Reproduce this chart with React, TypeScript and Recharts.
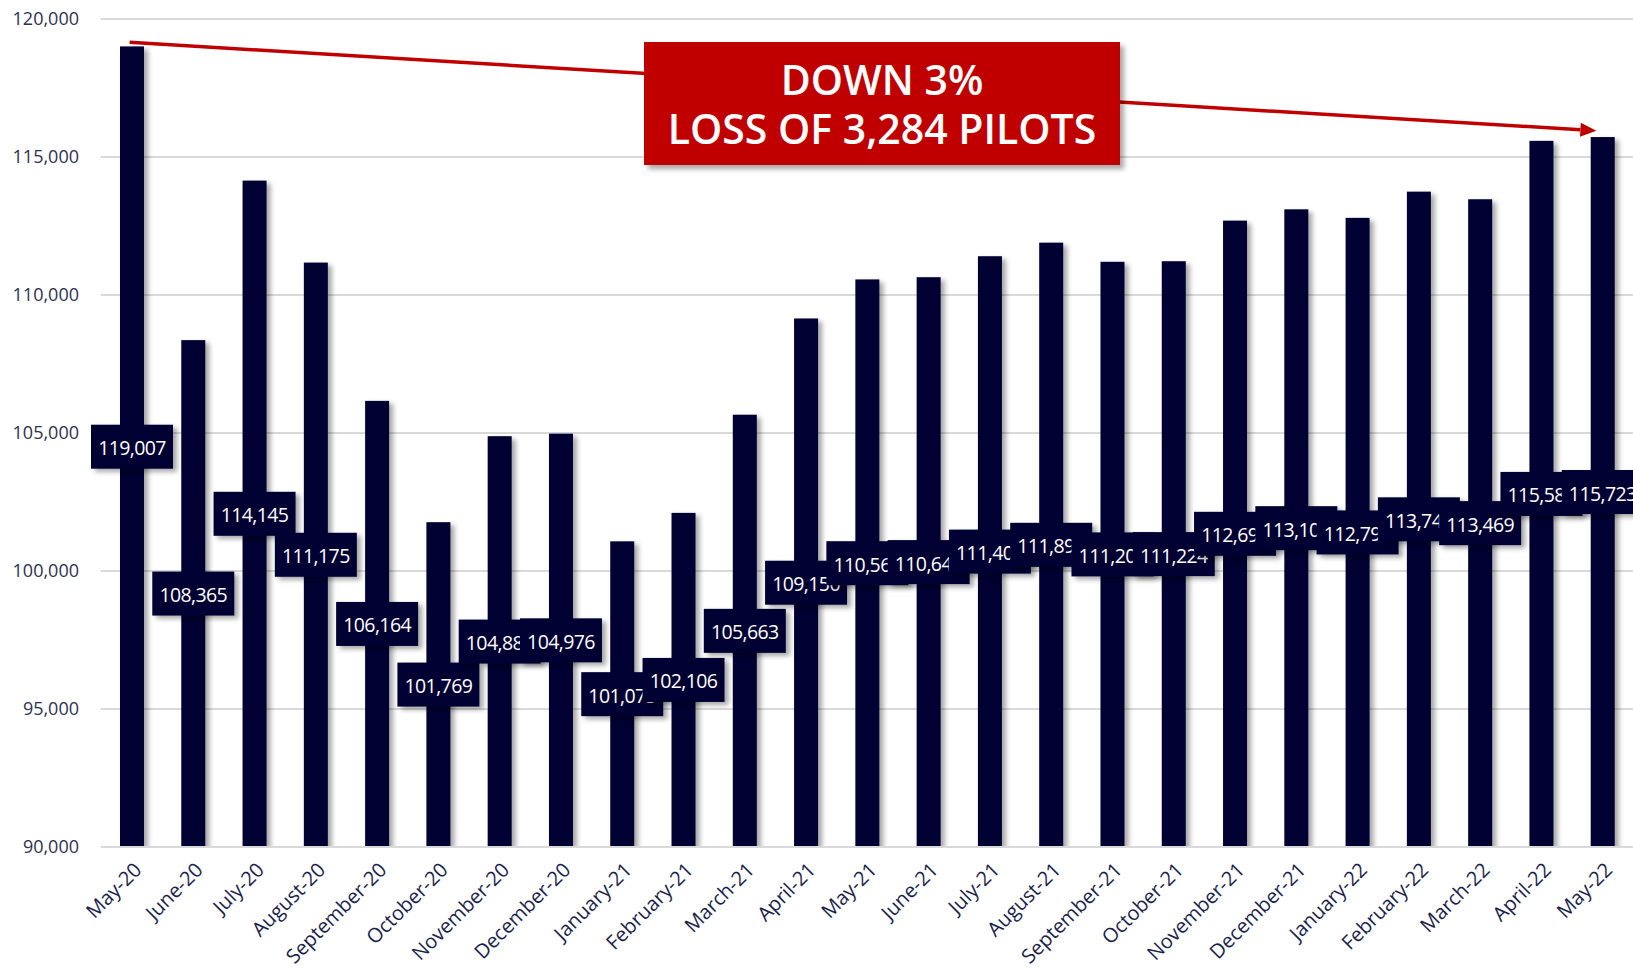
import { BarChart, Bar, XAxis, YAxis, CartesianGrid, LabelList, ReferenceLine } from "recharts";

const months = [
  "May-20", "June-20", "July-20", "August-20", "September-20", "October-20",
  "November-20", "December-20", "January-21", "February-21", "March-21", "April-21",
  "May-21", "June-21", "July-21", "August-21", "September-21", "October-21",
  "November-21", "December-21", "January-22", "February-22", "March-22", "April-22", "May-22",
];

const pilots = [
  119007, 108365, 114145, 111175, 106164, 101769,
  104885, 104976, 101075, 102106, 105663, 109150,
  110565, 110645, 111405, 111897, 111203, 111224,
  112695, 113104, 112795, 113745, 113469, 115585, 115723,
];

const yTicks = [90000, 95000, 100000, 105000, 110000, 115000, 120000];

// trend arrow end points (value at first and last month)
const arrowStart = 119150;
const arrowEnd = 115940;

const calloutLines = ["DOWN 3%", "LOSS OF 3,284 PILOTS"];

const data = months.map((m, i) => ({ month: m, pilots: pilots[i] }));

const NAVY = "#000033";
const RED = "#c00000";
const FONT = "'Open Sans', 'Noto Sans', sans-serif";

const fmt = (v: number) => v.toLocaleString("en-US");

function BarShape(p: any) {
  return <rect x={p.x} y={p.y} width={p.width} height={p.height} fill={NAVY} filter="url(#shadow)" />;
}

function ValueLabel(p: any) {
  const cx = p.x + p.width / 2;
  const cy = p.y + p.height / 2;
  const w = 82;
  const h = 44;
  return (
    <g>
      <rect x={cx - w / 2} y={cy - h / 2} width={w} height={h} fill={NAVY} filter="url(#shadow)" />
      <text
        x={cx}
        y={cy + 1}
        textAnchor="middle"
        dominantBaseline="central"
        fill="#ffffff"
        fontSize={19.5}
        letterSpacing={-0.6}
        fontFamily={FONT}
      >
        {fmt(p.value)}
      </text>
    </g>
  );
}

function MonthTick(p: any) {
  const x = p.x + 1;
  const y = p.y + 12;
  return (
    <text
      x={x}
      y={y}
      dy="0.72em"
      textAnchor="end"
      transform={`rotate(-45 ${x} ${y})`}
      fill="#1c1f4d"
      fontSize={20}
      fontFamily={FONT}
    >
      {p.payload.value}
    </text>
  );
}

function Arrow(p: any) {
  const { x1, y1, x2, y2 } = p;
  const len = Math.hypot(x2 - x1, y2 - y1);
  const ux = (x2 - x1) / len;
  const uy = (y2 - y1) / len;
  const tx = x2 - ux * 6;
  const ty = y2 - uy * 6;
  const hl = 16;
  const hw = 7;
  const bx = tx - ux * hl;
  const by = ty - uy * hl;
  return (
    <g>
      <line x1={x1 - ux * 2} y1={y1 - uy * 2} x2={bx} y2={by} stroke={RED} strokeWidth={3.5} />
      <polygon
        points={`${tx},${ty} ${bx - uy * hw},${by + ux * hw} ${bx + uy * hw},${by - ux * hw}`}
        fill={RED}
      />
    </g>
  );
}

export default function App() {
  return (
    <div style={{ position: "absolute", left: 0, top: 0, width: 1633, height: 970, background: "#fff", fontFamily: FONT }}>
      <BarChart width={1633} height={970} data={data} margin={{ top: 19, right: 0, bottom: 0, left: 11 }}>
        <defs>
          <filter id="shadow" filterUnits="userSpaceOnUse" x={0} y={0} width={1700} height={1000}>
            <feDropShadow dx={4} dy={3} stdDeviation={2.5} floodColor="#000" floodOpacity={0.35} />
          </filter>
        </defs>
        <CartesianGrid vertical={false} stroke="#d9d9d9" strokeWidth={2} />
        <XAxis
          dataKey="month"
          interval={0}
          height={123}
          tickSize={0}
          tickLine={false}
          axisLine={{ stroke: "#d9d9d9", strokeWidth: 2 }}
          tick={<MonthTick />}
        />
        <YAxis
          domain={[90000, 120000]}
          ticks={yTicks}
          width={90}
          tickSize={0}
          tickMargin={22}
          axisLine={false}
          tickLine={false}
          tickFormatter={fmt}
          tick={{ fill: "#2e3150", fontSize: 18, fontFamily: FONT }}
          allowDataOverflow
        />
        <Bar dataKey="pilots" barSize={24} shape={<BarShape />} isAnimationActive={false}>
          <LabelList dataKey="pilots" content={<ValueLabel />} />
        </Bar>
        <ReferenceLine
          segment={[
            { x: months[0], y: arrowStart },
            { x: months[months.length - 1], y: arrowEnd },
          ]}
          shape={<Arrow />}
          ifOverflow="visible"
        />
      </BarChart>
      <div
        style={{
          position: "absolute",
          left: 644,
          top: 42,
          width: 476,
          height: 123,
          background: RED,
          color: "#fff",
          boxShadow: "4px 4px 5px rgba(0,0,0,0.35)",
          display: "flex",
          flexDirection: "column",
          justifyContent: "center",
          alignItems: "center",
          fontSize: 41,
          fontWeight: 600,
          lineHeight: "49px",
          fontFamily: FONT,
        }}
      >
        {calloutLines.map((t) => (
          <div key={t}>{t}</div>
        ))}
      </div>
    </div>
  );
}
